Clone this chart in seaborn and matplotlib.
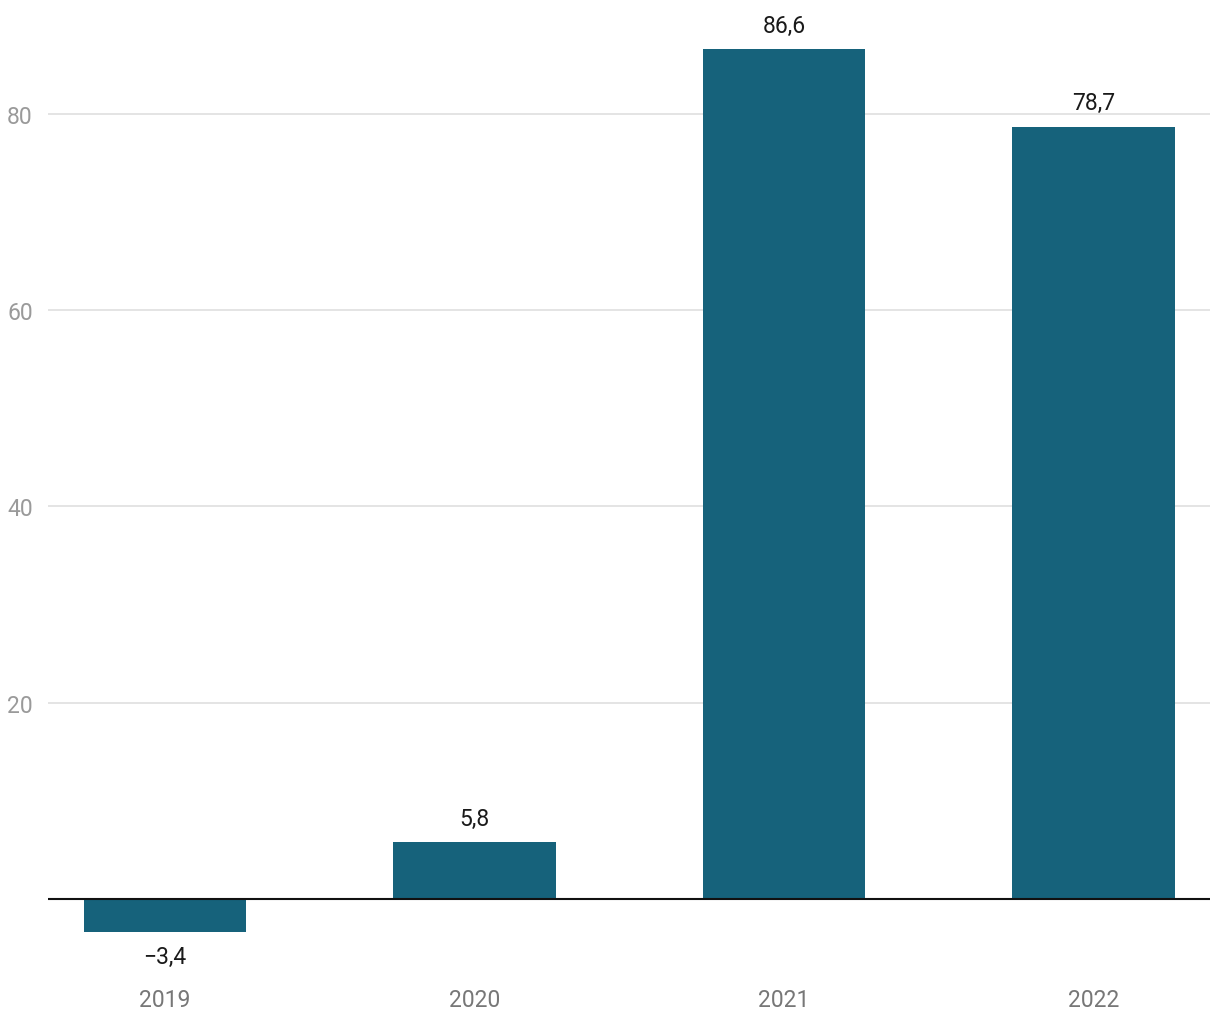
import matplotlib
matplotlib.use("Agg")
import matplotlib.pyplot as plt
import seaborn as sns
import pandas as pd

years = ["2019", "2020", "2021", "2022"]
values = [-3.4, 5.8, 86.6, 78.7]
labels = ["\u22123,4", "5,8", "86,6", "78,7"]
yticks = [20, 40, 60, 80]

sns.set_theme(style="white")
plt.rcParams['font.family'] = ['Roboto', 'DejaVu Sans']

df = pd.DataFrame({"year": years, "value": values})

fig = plt.figure(figsize=(12.2, 10.2), dpi=100)
ax = fig.add_axes([48/1220, 1-947/1020, (1210-48)/1220, (947-12)/1020])

sns.barplot(data=df, x="year", y="value", color="#16627b", saturation=1,
            width=0.525, linewidth=0, ax=ax, zorder=3)

ax.set_xlim(-0.378, 3.377)
ax.set_ylim(-4.8, 90.5)
ax.set_yticks(yticks)
ax.set_yticklabels([str(t) for t in yticks])
for t in yticks:
    ax.axhline(t, color="#e2e2e2", lw=1.3, zorder=1)
ax.axhline(0, color="#111111", lw=1.5, zorder=4)

for s in ax.spines.values():
    s.set_visible(False)
ax.tick_params(axis="y", length=0, pad=11, labelsize=16.5, labelcolor="#9a9a9a")
ax.tick_params(axis="x", length=0, pad=30, labelsize=16.5, labelcolor="#777777")
ax.set_xlabel("")
ax.set_ylabel("")

for i, (v, lab) in enumerate(zip(values, labels)):
    if v >= 0:
        ax.annotate(lab, (i, v), xytext=(0, 9), textcoords="offset points",
                    ha="center", va="bottom", fontsize=16.5, color="#1a1a1a")
    else:
        ax.annotate(lab, (i, v), xytext=(0, -9), textcoords="offset points",
                    ha="center", va="top", fontsize=16.5, color="#1a1a1a")

fig.savefig("out.png", dpi=100)
